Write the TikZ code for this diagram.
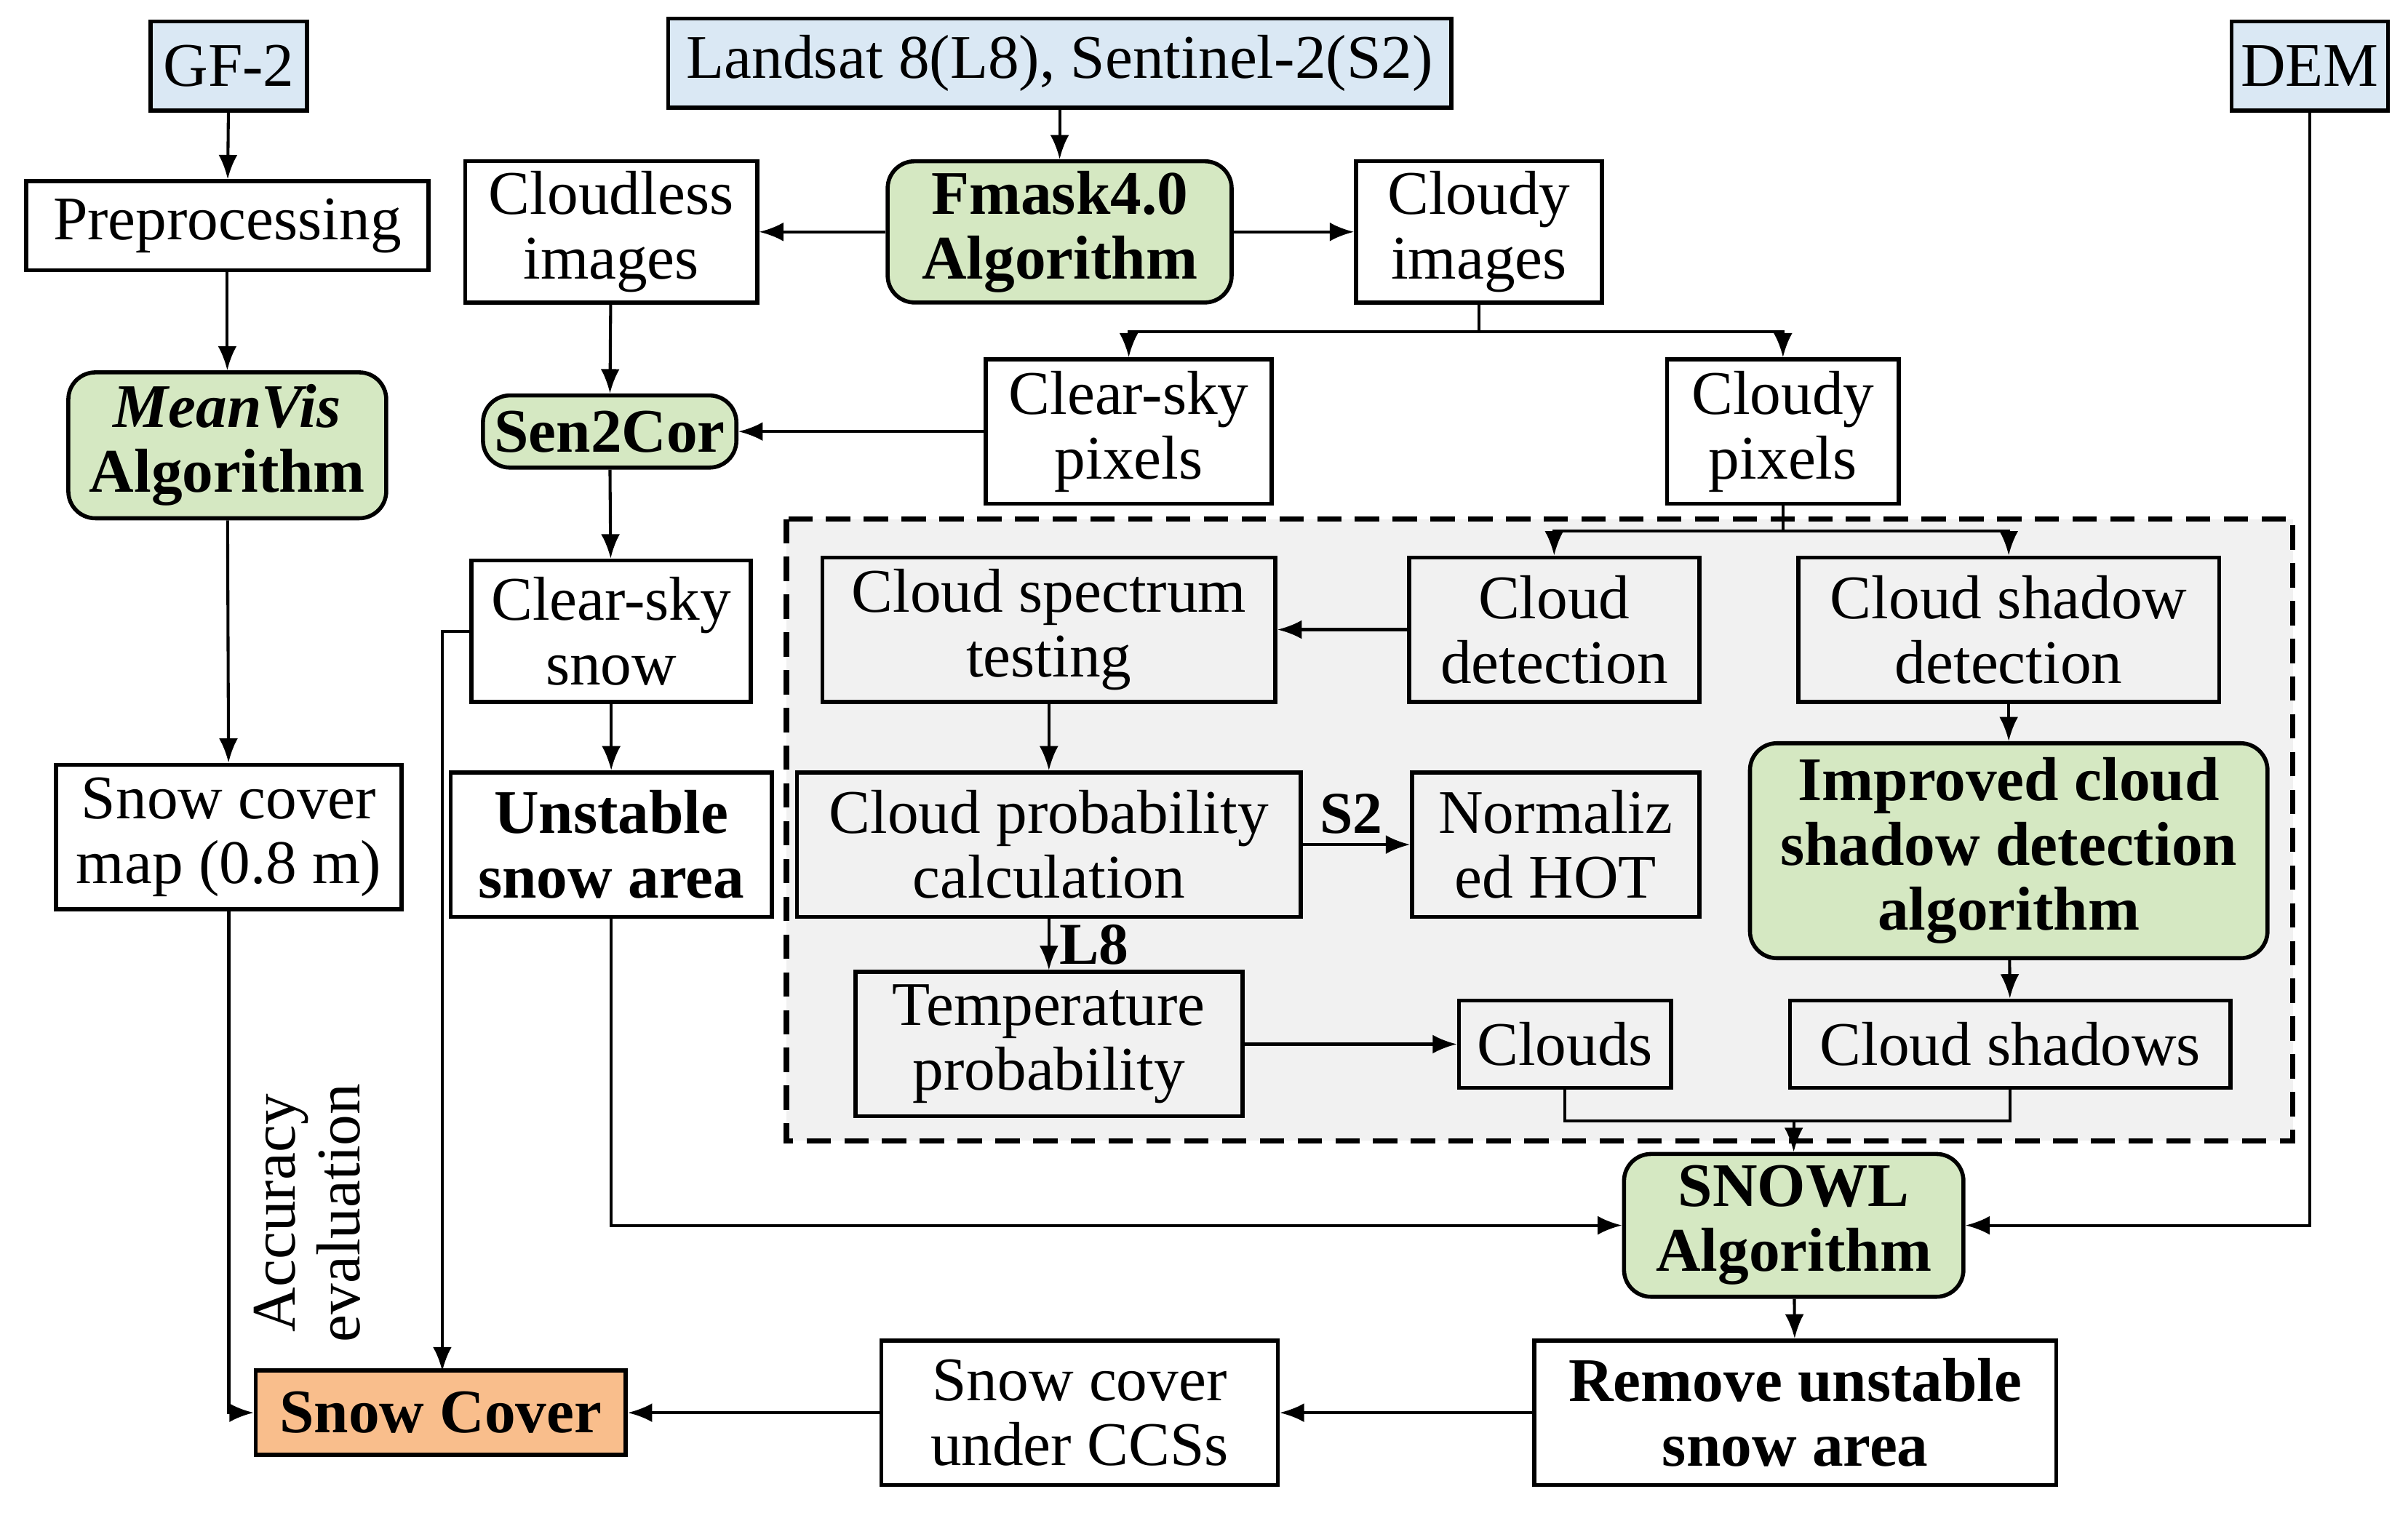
\documentclass[tikz,border=0pt]{standalone}
\usepackage{fontspec}
\setmainfont{Liberation Serif}
\usetikzlibrary{arrows.meta}
\definecolor{bluef}{HTML}{DAE8F4}
\definecolor{greenf}{HTML}{D5E8C2}
\definecolor{orangef}{HTML}{F9BE8C}
\definecolor{grayf}{HTML}{F1F1F1}
\newcommand{\Bx}[7]{\node[#6,minimum width=#4*0.02cm,minimum height=#5*0.02cm] (#1) at (#2,#3) {#7};}
\begin{document}
\begin{tikzpicture}[x=0.02cm,y=-0.02cm,
  bx/.style={draw,line width=1.5pt,inner sep=0pt,align=center,font=\fontsize{23}{24}\selectfont},
  blu/.style={bx,fill=bluef},
  grn/.style={bx,fill=greenf,rounded corners=10pt,font=\fontsize{23}{24}\selectfont\bfseries},
  org/.style={bx,fill=orangef,font=\fontsize{23}{24}\selectfont\bfseries},
  bld/.style={bx,font=\fontsize{23}{24}\selectfont\bfseries},
  ar/.style={-{Latex[length=9pt,width=7pt]},line width=1.1pt},
  ln/.style={line width=1.1pt},
  lab/.style={font=\fontsize{22}{23}\selectfont\bfseries}]
\useasboundingbox (0,0) rectangle (1568,985);
\draw[fill=grayf,dashed,line width=2pt,dash pattern=on 9pt off 5pt] (512,338) rectangle (1493,743);
\Bx{gf}{149}{43}{102}{58}{blu}{GF-2}
\Bx{ls}{690}{41}{510}{58}{blu}{Landsat 8(L8), Sentinel-2(S2)}
\Bx{dem}{1504}{43}{102}{58}{blu}{DEM}
\Bx{pre}{148}{147}{262}{58}{bx}{Preprocessing}
\Bx{fm}{690}{151}{224}{92}{grn}{Fmask4.0\\Algorithm}
\Bx{cl}{398}{151}{190}{92}{bx}{Cloudless\\images}
\Bx{cy}{963}{151}{160}{92}{bx}{Cloudy\\images}
\Bx{csp}{735}{281}{186}{94}{bx}{Clear-sky\\pixels}
\Bx{cyp}{1161}{281}{151}{94}{bx}{Cloudy\\pixels}
\Bx{mv}{148}{290}{207}{95}{grn}{\textit{MeanVis}\\Algorithm}
\Bx{s2c}{397}{281}{165}{47}{grn}{Sen2Cor}
\Bx{css}{398}{411}{182}{92}{bx}{Clear-sky\\snow}
\Bx{cst}{683}{410}{295}{94}{bx}{Cloud spectrum\\testing}
\Bx{cd}{1012}{410}{189}{94}{bx}{Cloud\\detection}
\Bx{csd}{1308}{410}{274}{94}{bx}{Cloud shadow\\detection}
\Bx{scm}{149}{545}{225}{94}{bx}{Snow cover\\map (0.8 m)}
\Bx{usa}{398}{550}{209}{94}{bld}{Unstable\\snow area}
\Bx{cpc}{683}{550}{328}{94}{bx}{Cloud probability\\calculation}
\Bx{hot}{1013}{550}{187}{94}{bx}{Normaliz\\ed HOT}
\Bx{imp}{1308}{554}{337}{140}{grn}{Improved cloud\\shadow detection\\algorithm}
\Bx{tp}{683}{680}{252}{94}{bx}{Temperature\\probability}
\Bx{clo}{1019}{680}{138}{57}{bx}{Clouds}
\Bx{cls}{1309}{680}{287}{57}{bx}{Cloud shadows}
\Bx{snowl}{1168}{798}{221}{93}{grn}{SNOWL\\Algorithm}
\Bx{sc}{287}{920}{241}{55}{org}{Snow Cover}
\Bx{ccs}{703}{920}{258}{94}{bx}{Snow cover\\under CCSs}
\Bx{rem}{1169}{920}{340}{94}{bld}{Remove unstable\\snow area}
\draw[ar] (gf) -- (pre);
\draw[ar] (pre) -- (mv);
\draw[ar] (mv) -- (scm);
\draw[ar] (ls) -- (fm);
\draw[ar] (fm) -- (cl);
\draw[ar] (fm) -- (cy);
\draw[ln] (cy.south) -- (963,216);
\draw[ar] (963,216) -| (csp.north);
\draw[ar] (963,216) -| (cyp.north);
\draw[ar] (cl) -- (s2c);
\draw[ar] (csp) -- (s2c);
\draw[ar] (s2c) -- (css);
\draw[ar] (css) -- (usa);
\draw[ln] (cyp.south) -- (1161,346);
\draw[ar] (1161,346) -| (cd.north);
\draw[ar] (1161,346) -| (csd.north);
\draw[ar] (cd) -- (cst);
\draw[ar] (cst) -- (cpc);
\draw[ar] (cpc) -- node[lab,above,pos=0.45]{S2} (hot);
\draw[ar] (cpc) -- node[lab,right,pos=0.5]{L8} (tp);
\draw[ar] (tp.east) -- (clo.west);
\draw[ar] (csd) -- (imp);
\draw[ar] (imp) -- (cls);
\draw[ln] (clo.south) |- (1168,730);
\draw[ln] (cls.south) |- (1168,730);
\draw[ar] (1168,730) -- (snowl.north);
\draw[ar] (usa.south) |- (snowl.west);
\draw[ar] (dem.south) |- (snowl.east);
\draw[ar] (snowl) -- (rem);
\draw[ar] (rem) -- (ccs);
\draw[ar] (ccs) -- (sc);
\draw[ar] (scm.south) |- (sc.west);
\draw[ar] (css.west) -| (288,893);
\node[rotate=90,align=center,font=\fontsize{23}{24}\selectfont] (acc) at (200,790) {Accuracy\\evaluation};
\end{tikzpicture}
\end{document}
